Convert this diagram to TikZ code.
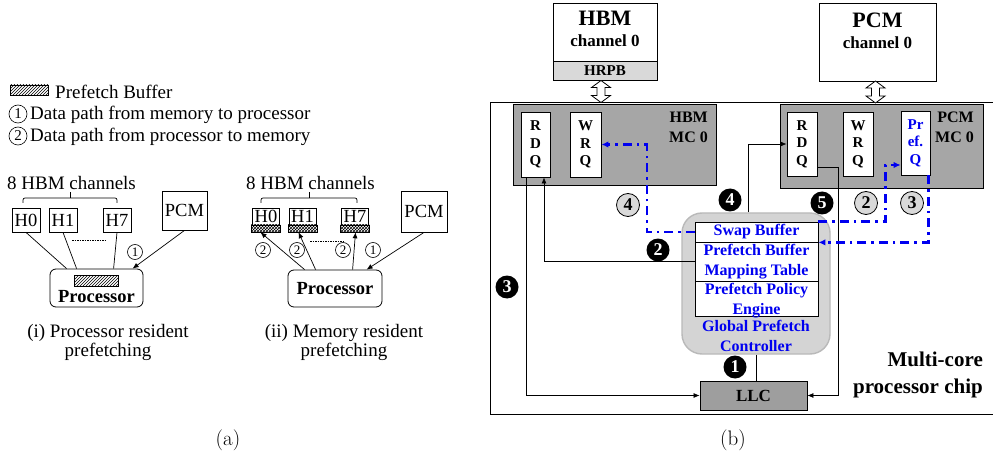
\documentclass[tikz,border=0pt]{standalone}
\usepackage{fontspec}
\newfontfamily\tnr{Liberation Serif}
\usetikzlibrary{arrows.meta,patterns,calc}
\definecolor{pfblue}{RGB}{0,0,240}
\definecolor{mcgray}{RGB}{166,166,166}
\definecolor{llcgray}{RGB}{158,158,158}
\definecolor{gpcfill}{RGB}{212,212,212}
\definecolor{gpcline}{RGB}{185,185,185}
\definecolor{lightfill}{RGB}{217,217,217}
\begin{document}
\begin{tikzpicture}[x=1pt,y=-1pt,
  txt/.style={inner sep=0pt, font=\tnr\fontsize{19}{20}\selectfont},
  hbox/.style={draw, line width=0.8pt, inner sep=0pt, minimum width=28pt, minimum height=24pt, font=\tnr\fontsize{18.5}{18.5}\selectfont},
  sbox/.style={draw, line width=0.8pt, inner sep=0pt, minimum width=27pt, minimum height=17pt, font=\tnr\fontsize{18.5}{18.5}\selectfont},
  strip/.style={draw, line width=0.6pt, inner sep=0pt, minimum width=29pt, minimum height=7pt, pattern=crosshatch},
  procbox/.style={draw, line width=0.8pt, rounded corners=6pt, inner sep=0pt},
  onum/.style={circle, draw, line width=0.6pt, inner sep=0pt, minimum size=15pt, font=\tnr\fontsize{13}{13}\selectfont},
  lnk/.style={line width=0.7pt},
  arr/.style={lnk, -{Latex[length=6pt,width=5pt]}},
  blarr/.style={draw=pfblue, line width=2.2pt, dash pattern=on 9pt off 5pt on 2.5pt off 5pt, -{Latex[length=7pt,width=6.5pt]}},
  bnum/.style={circle, fill=black, text=white, inner sep=0pt, minimum size=23pt, font=\tnr\bfseries\fontsize{18}{18}\selectfont},
  gnum/.style={circle, draw, line width=0.8pt, fill=lightfill, inner sep=0pt, minimum size=23pt, font=\tnr\bfseries\fontsize{18}{18}\selectfont},
  qbox/.style={draw, fill=white, line width=0.8pt, inner sep=0pt, minimum width=29pt, minimum height=65pt, align=center, font=\tnr\bfseries\fontsize{15}{17.5}\selectfont},
  btxt/.style={inner sep=0pt, font=\tnr\bfseries\fontsize{16}{20}\selectfont},
  bltxt/.style={btxt, text=pfblue},
  trow/.style={draw, fill=white, line width=0.8pt, inner sep=0pt, minimum width=123pt},
  updown/.pic={\draw[line width=0.8pt, fill=white] (0,-11) -- (9.5,-4) -- (4,-4) -- (4,4) -- (9.5,4) -- (0,11) -- (-9.5,4) -- (-4,4) -- (-4,-4) -- (-9.5,-4) -- cycle;}
]
\useasboundingbox (0,0) rectangle (993,465);

% ---------------- legend ----------------
\node[draw, line width=0.6pt, pattern=north east lines, minimum width=38pt, minimum height=10pt, inner sep=0pt] (legbuf) at (29,90) {};
\node[txt, anchor=west] (legbuft) at (55,92) {Prefetch Buffer};
\node[onum, minimum size=18pt, font=\tnr\fontsize{15}{15}\selectfont] (leg1) at (18,114) {1};
\node[txt, anchor=west] (leg1t) at (30,115) {Data path from memory to processor};
\node[onum, minimum size=18pt, font=\tnr\fontsize{15}{15}\selectfont] (leg2) at (18,136) {2};
\node[txt, anchor=west] (leg2t) at (30,137) {Data path from processor to memory};

% ---------------- (i) processor resident ----------------
\node[txt] (hbmta) at (71.5,183) {8 HBM channels};
\draw[lnk, rounded corners=2pt] (23,203) -- (23,198) -- (117,198) -- (117,203);
\draw[lnk] (70,198) -- (70,192);
\node[hbox] (h0a) at (26,220) {H0};
\node[hbox] (h1a) at (63,220) {H1};
\node[hbox] (h7a) at (117,220) {H7};
\node[hbox, minimum width=45pt, minimum height=39pt] (pcma) at (184.5,210.5) {PCM};
\draw[line width=0.4pt, dash pattern=on 1.5pt off 1pt] (72,240) -- (106,240);
\node[procbox, minimum width=93pt, minimum height=38pt] (proca) at (96.5,288) {};
\node[draw, line width=0.6pt, pattern=north east lines, minimum width=44pt, minimum height=11pt, inner sep=0pt] (pbufa) at (96,280.5) {};
\node[txt, font=\tnr\bfseries\fontsize{18.5}{18.5}\selectfont] (procat) at (96.5,297) {Processor};
\draw[lnk] (h0a.south) -- ($(proca.north west)+(17,0)$);
\draw[lnk] (h1a.south) -- ($(proca.north west)+(27,0)$);
\draw[lnk] (h7a.south) -- ($(proca.north west)+(64,0)$);
\draw[arr] (pcma.south) -- ($(proca.north west)+(83,0)$);
\node[onum] (na1) at (135,252) {1};
\node[txt] (capia) at (108,333) {(i) Processor resident};
\node[txt] (capib) at (108,352) {prefetching};

% ---------------- (ii) memory resident ----------------
\node[txt] (hbmtb) at (310.5,183) {8 HBM channels};
\draw[lnk, rounded corners=2pt] (261,203) -- (261,198) -- (357,198) -- (357,203);
\draw[lnk] (309,198) -- (309,192);
\node[sbox] (h0b) at (266,216.5) {H0};
\node[sbox] (h1b) at (302.5,216.5) {H1};
\node[sbox] (h7b) at (355,216.5) {H7};
\node[strip] (s0b) at (265.5,228.5) {};
\node[strip] (s1b) at (302.5,228.5) {};
\node[strip] (s7b) at (354.5,228.5) {};
\node[hbox, minimum width=46pt, minimum height=41pt] (pcmb) at (424,211.5) {PCM};
\draw[line width=0.4pt, dash pattern=on 1.5pt off 1pt] (310,241) -- (345,241);
\node[procbox, minimum width=94pt, minimum height=37pt, font=\tnr\bfseries\fontsize{18.5}{18.5}\selectfont] (procb) at (335,288.5) {Processor};
\draw[arr] ($(procb.north west)+(17,0)$) -- ($(s0b.south)+(-5,0)$);
\draw[arr] ($(procb.north west)+(28,0)$) -- ($(s1b.south)+(-4,0)$);
\draw[arr] ($(procb.north west)+(65,0)$) -- ($(s7b.south)+(1,0)$);
\draw[arr] (pcmb.south) -- ($(procb.north west)+(79,0)$);
\node[onum] (nb2a) at (263,250) {2};
\node[onum] (nb2b) at (297,250) {2};
\node[onum] (nb2c) at (343,250) {2};
\node[onum] (nb1) at (373,250) {1};
\node[txt] (capiia) at (344,333) {(ii) Memory resident};
\node[txt] (capiib) at (344,352) {prefetching};

\node[inner sep=0pt, font=\fontsize{21}{21}\selectfont] (capa) at (228,440) {(a)};

% ---------------- (b) chip with controllers ----------------
\draw[line width=1pt] (993,103) -- (490,103) -- (490,414) -- (993,414);

% HBM channel and its row-buffer strip
\node[draw, line width=0.8pt, fill=white, minimum width=104pt, minimum height=77pt, inner sep=0pt] (hbm) at (605,41.5) {};
\node[draw, line width=0.8pt, fill=lightfill, minimum width=104pt, minimum height=19pt, inner sep=0pt, font=\tnr\bfseries\fontsize{15}{15}\selectfont] (hrpb) at (605,70.5) {HRPB};
\node[inner sep=0pt, font=\tnr\bfseries\fontsize{22}{22}\selectfont] (hbmname) at (605,18) {HBM};
\node[inner sep=0pt, font=\tnr\bfseries\fontsize{17}{17}\selectfont] (hbmch) at (605,41) {channel 0};
\pic at (601,91.5) {updown};

% PCM channel
\node[draw, line width=0.8pt, fill=white, minimum width=117pt, minimum height=78pt, inner sep=0pt] (pcm) at (877.5,42) {};
\node[inner sep=0pt, font=\tnr\bfseries\fontsize{22}{22}\selectfont] (pcmname) at (877.5,20) {PCM};
\node[inner sep=0pt, font=\tnr\bfseries\fontsize{17}{17}\selectfont] (pcmch) at (877.5,43) {channel 0};
\pic at (875.5,92) {updown};

% HBM memory controller
\node[draw, line width=0.8pt, fill=mcgray, minimum width=203pt, minimum height=81pt, inner sep=0pt] (hbmmc) at (614.5,144.5) {};
\node[qbox] (rdqh) at (535.5,144.5) {R\\D\\Q};
\node[qbox, minimum width=31pt] (wrqh) at (585.5,144.5) {W\\R\\Q};
\node[btxt, anchor=east] (hbmmct) at (708,117) {HBM};
\node[btxt, anchor=east] (hbmmcn) at (708,137) {MC 0};

% PCM memory controller
\node[draw, line width=0.8pt, fill=mcgray, minimum width=203pt, minimum height=84pt, inner sep=0pt] (pcmmc) at (881.5,146) {};
\node[qbox, minimum width=30pt, minimum height=64pt] (rdqp) at (802,144) {R\\D\\Q};
\node[qbox, minimum width=30pt, minimum height=64pt] (wrqp) at (858,144) {W\\R\\Q};
\node[qbox, minimum height=64pt, text=pfblue] (prefq) at (915.5,143) {Pr\\ef.\\Q};
\node[btxt, anchor=east] (pcmmct) at (974,117) {PCM};
\node[btxt, anchor=east] (pcmmcn) at (974,137) {MC 0};

% global prefetch controller
\node[draw=gpcline, line width=1.4pt, fill=gpcfill, rounded corners=20pt, minimum width=148pt, minimum height=141pt, inner sep=0pt] (gpc) at (756,283.5) {};
\node[trow, minimum height=20pt] (swap) at (756.5,232) {};
\node[trow, minimum height=39pt] (pbmt) at (756.5,261.5) {};
\node[trow, minimum height=35pt] (ppe) at (756.5,298.5) {};
\node[bltxt] (swapt) at (756.5,232) {Swap Buffer};
\node[bltxt, align=center] (pbmtt) at (756.5,261.5) {Prefetch Buffer\\Mapping Table};
\node[bltxt, align=center] (ppet) at (756.5,300.5) {Prefetch Policy\\Engine};
\node[bltxt, align=center] (gpct) at (756,335.5) {Global Prefetch\\Controller};

% last-level cache
\node[draw, line width=0.8pt, fill=llcgray, minimum width=107pt, minimum height=29pt, inner sep=0pt, font=\tnr\bfseries\fontsize{17}{17}\selectfont] (llc) at (753.5,395.5) {LLC};

\node[inner sep=0pt, anchor=base east, font=\tnr\bfseries\fontsize{21}{21}\selectfont] (chipa) at (983,366) {Multi-core};
\node[inner sep=0pt, anchor=base east, font=\tnr\bfseries\fontsize{21}{21}\selectfont] (chipb) at (983,393) {processor chip};

% data paths
\draw[lnk] (gpc.south) -- (gpc.south |- llc.north);
\draw[arr] (pbmt.west) -| ($(rdqh.south)+(8.5,0)$);
\draw[arr] ($(rdqh.south)+(-9.5,0)$) |- (llc.west);
\draw[arr] ($(gpc.north)+(-8,0)$) |- (rdqp.west);
\coordinate (r5) at (838,167);
\draw[lnk] (rdqp.east |- r5) -- (r5);
\draw[arr] (r5) |- (llc.east);

\draw[blarr] (swap.west) -- ++(-48,0) |- (wrqh.east);
\draw[blarr] (swap.north east) -- ++(67,0) |- ($(prefq.west)+(0,22)$);
\draw[blarr] ($(prefq.south east)+(-2,0)$) |- (swap.south east);

% step numbers
\node[bnum] (s1) at (735,367) {1};
\node[bnum] (s2) at (658,250) {2};
\node[bnum] (s3) at (507,287) {3};
\node[bnum] (s4) at (730,200) {4};
\node[bnum] (s5) at (822,203) {5};
\node[gnum] (g4) at (628,205) {4};
\node[gnum] (g2) at (866,203) {2};
\node[gnum] (g3) at (912,203) {3};

\node[inner sep=0pt, font=\fontsize{21}{21}\selectfont] (capb) at (733,440) {(b)};
\end{tikzpicture}
\end{document}
